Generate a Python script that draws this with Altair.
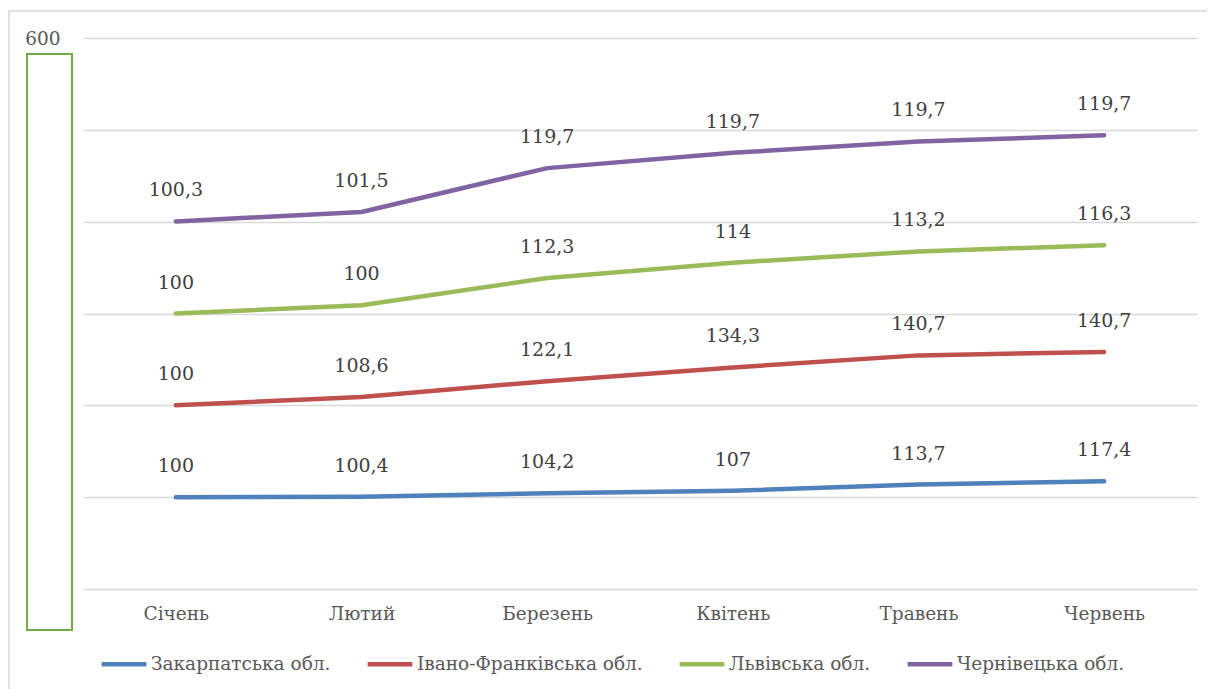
import altair as alt
import pandas as pd

months = ["Січень", "Лютий", "Березень", "Квітень", "Травень", "Червень"]
regions = ["Закарпатська обл.", "Івано-Франківська обл.", "Львівська обл.", "Чернівецька обл."]
colors = ["#4F81BD", "#C0504D", "#9BBB59", "#8064A2"]

zakarpattia = [100, 100.4, 104.2, 107, 113.7, 117.4]
ivano_frankivsk = [100, 108.6, 122.1, 134.3, 140.7, 140.7]
lviv = [100, 100, 112.3, 114, 113.2, 116.3]
chernivtsi = [100.3, 101.5, 119.7, 119.7, 119.7, 119.7]

series = [zakarpattia, ivano_frankivsk, lviv, chernivtsi]
rows = []
for ri, (name, vals) in enumerate(zip(regions, series)):
    for mi, (m, v) in enumerate(zip(months, vals)):
        rows.append({"region": name, "order": ri, "month": m, "mi": mi, "value": v})
df = pd.DataFrame(rows)

FONT = "DejaVu Serif"
FS = 18.5

base = alt.Chart(df).transform_stack(
    stack="value", groupby=["month"], as_=["y0", "y1"],
    sort=[alt.SortField("order", order="ascending")]
).transform_calculate(
    label="replace(toString(datum.value), '.', ',')"
)

x_enc = alt.X("month:N", sort=months, scale=alt.Scale(type="point", padding=0.5),
              axis=alt.Axis(title=None, domain=False, ticks=False, grid=False, labelPadding=15,
                            labelFont=FONT, labelFontSize=FS, labelColor="#595959", labelAngle=0))
y_enc = alt.Y("y1:Q", scale=alt.Scale(domain=[0, 600], nice=False),
              axis=alt.Axis(title=None, values=[0, 100, 200, 300, 400, 500, 600],
                            labelExpr="datum.value == 600 ? '600' : ''",
                            domain=False, ticks=False, labelPadding=23,
                            labelFont=FONT, labelFontSize=FS, labelColor="#595959",
                            gridColor="#d9d9d9", gridWidth=1.5))

lines = base.mark_line(strokeWidth=4.5, strokeCap="round", strokeJoin="round").encode(
    x=x_enc, y=y_enc,
    color=alt.Color("region:N", sort=regions,
                    scale=alt.Scale(domain=regions, range=colors),
                    legend=alt.Legend(title=None, orient="none", direction="horizontal",
                                      legendX=16, legendY=601,
                                      symbolType="stroke", symbolSize=2000, symbolStrokeWidth=4.5,
                                      labelFont=FONT, labelFontSize=FS, labelColor="#595959",
                                      labelLimit=0, columnPadding=27, labelOffset=2)),
    detail="region:N", order="mi:Q"
)

labels = base.mark_text(dy=-31, font=FONT, fontSize=FS + 0.5, color="#404040").encode(
    x=alt.X("month:N", sort=months), y="y1:Q", text="label:N"
)

deco = pd.DataFrame({"k": [0]})
border = alt.Chart(deco).mark_rect(fill=None, stroke="#d9d9d9", strokeWidth=1.5).encode(
    x=alt.value(-74), x2=alt.value(1200), y=alt.value(-27), y2=alt.value(700)
)
green = alt.Chart(deco).mark_rect(fill=None, stroke="#70AD47", strokeWidth=2).encode(
    x=alt.value(-56), x2=alt.value(-11), y=alt.value(16), y2=alt.value(592)
)

chart = alt.layer(lines, labels, green, border).properties(
    width=1114, height=551,
    padding={"left": 75, "top": 30, "right": 10, "bottom": 100},
    autosize=alt.AutoSizeParams(type="none")
).configure(background="white").configure_view(stroke=None)

chart.save("out.html", embed_options={"renderer": "svg", "actions": False})
